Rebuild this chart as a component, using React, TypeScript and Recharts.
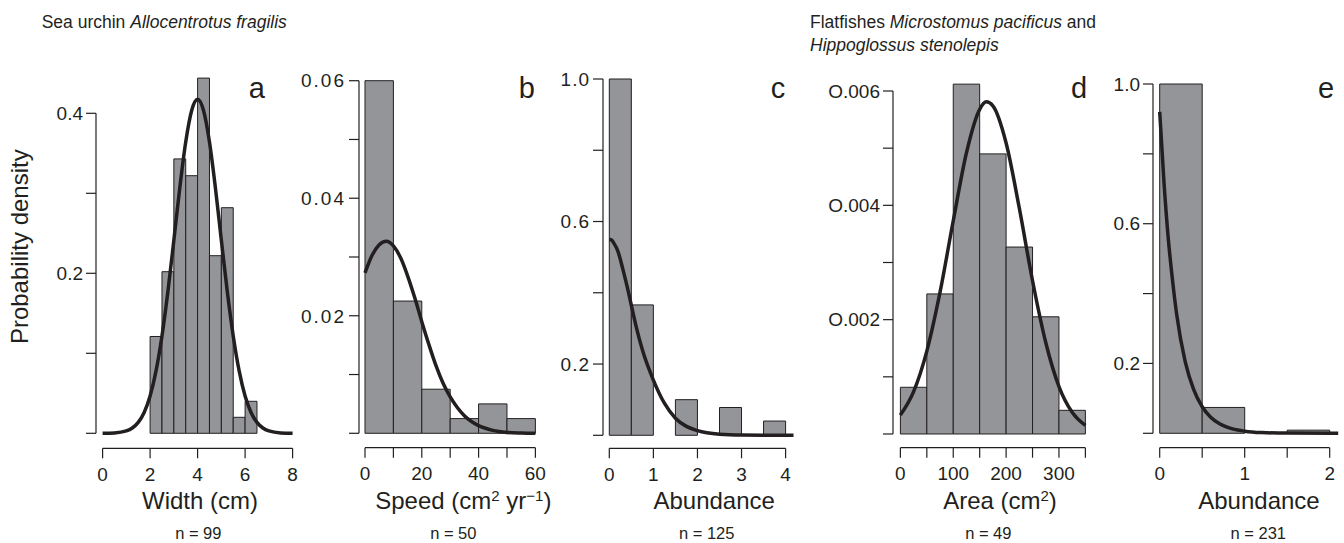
import React from "react";
import { LineChart, Line, XAxis, YAxis, ReferenceArea, ReferenceLine } from "recharts";

const INK = "#231f20";
const BAR_FILL = "#939598";
const FONT = '"Liberation Sans", Arial, Helvetica, sans-serif';

// a: sea urchin test width
const widthEdges = [2, 2.5, 3, 3.5, 4, 4.5, 5, 5.5, 6, 6.5];
const widthDensity = [0.121, 0.202, 0.343, 0.322, 0.444, 0.222, 0.282, 0.02, 0.04];
const widthFitX = [0, 0.5, 1, 1.25, 1.5, 1.75, 2, 2.25, 2.5, 2.75, 3, 3.25, 3.5, 3.75, 4, 4.25, 4.5, 4.75, 5, 5.25, 5.5, 5.75, 6, 6.25, 6.5, 6.75, 7, 7.5, 8];
const widthFitY = [0.0001, 0.0005, 0.003, 0.0066, 0.0136, 0.026, 0.0466, 0.078, 0.1217, 0.1772, 0.2413, 0.3068, 0.364, 0.4034, 0.4175, 0.4034, 0.364, 0.3068, 0.2413, 0.1772, 0.1217, 0.078, 0.0466, 0.026, 0.0136, 0.0066, 0.003, 0.0005, 0.0001];
const widthXTicks = [0, 2, 4, 6, 8];
const widthXLabels = ["0", "2", "4", "6", "8"];
const widthYTicks = [0, 0.1, 0.2, 0.3, 0.4];
const widthYLabels = ["", "", "0.2", "", "0.4"];

// b: sea urchin speed
const speedEdges = [0, 10, 20, 30, 40, 50, 60];
const speedDensity = [0.06, 0.0225, 0.0075, 0.0025, 0.005, 0.0025];
const speedFitX = [0, 2.5, 5, 7.5, 10, 12.5, 15, 17.5, 20, 22.5, 25, 27.5, 30, 32.5, 35, 37.5, 40, 45, 50, 55, 60];
const speedFitY = [0.0273, 0.0303, 0.0321, 0.0327, 0.0319, 0.0299, 0.0268, 0.0231, 0.019, 0.0151, 0.0115, 0.0085, 0.0062, 0.0044, 0.003, 0.002, 0.0013, 0.0005, 0.00015, 0.00004, 0];
const speedXTicks = [0, 10, 20, 30, 40, 50, 60];
const speedXLabels = ["0", "", "20", "", "40", "", "60"];
const speedYTicks = [0, 0.01, 0.02, 0.03, 0.04, 0.05, 0.06];
const speedYLabels = ["", "", "0.02", "", "0.04", "", "0.06"];

// c: sea urchin abundance
const urchinAbEdges = [0, 0.5, 1, 1.5, 2, 2.5, 3, 3.5, 4];
const urchinAbDensity = [1.0, 0.366, 0, 0.1, 0, 0.078, 0, 0.04];
const urchinAbFitX = [0, 0.05, 0.1, 0.2, 0.3, 0.4, 0.5, 0.6, 0.75, 1, 1.25, 1.5, 1.75, 2, 2.5, 3, 3.5, 4.18];
const urchinAbFitY = [0.55, 0.548, 0.54, 0.515, 0.47, 0.42, 0.365, 0.31, 0.24, 0.155, 0.09, 0.048, 0.025, 0.013, 0.003, 0.0005, 0.0001, 0];
const urchinAbXTicks = [0, 1, 2, 3, 4];
const urchinAbXLabels = ["0", "1", "2", "3", "4"];
const urchinAbYTicks = [0, 0.2, 0.4, 0.6, 0.8, 1.0];
const urchinAbYLabels = ["", "0.2", "", "0.6", "", "1.0"];

// d: flatfish area
const areaEdges = [0, 50, 100, 150, 200, 250, 300, 350];
const areaDensity = [0.000817, 0.00245, 0.00612, 0.0049, 0.00327, 0.00205, 0.000414];
const areaFitX = [0, 25, 50, 75, 100, 125, 150, 162.5, 175, 200, 225, 250, 275, 300, 325, 350];
const areaFitY = [0.00033, 0.00074, 0.00145, 0.00248, 0.00373, 0.00492, 0.00568, 0.00581, 0.00574, 0.00509, 0.00395, 0.00268, 0.0016, 0.00083, 0.00038, 0.00015];
const areaXTicks = [0, 50, 100, 150, 200, 250, 300, 350];
const areaXLabels = ["0", "", "100", "", "200", "", "300", ""];
const areaYTicks = [0, 0.001, 0.002, 0.003, 0.004, 0.005, 0.006];
const areaYLabels = ["", "", "O.002", "", "O.004", "", "O.006"];

// e: flatfish abundance
const fishAbEdges = [0, 0.5, 1, 1.5, 2];
const fishAbDensity = [1.0, 0.074, 0, 0.009];
const fishAbFitX = [0, 0.05, 0.1, 0.15, 0.2, 0.3, 0.4, 0.5, 0.6, 0.7, 0.8, 1, 1.2, 1.5, 2.1];
const fishAbFitY = [0.92, 0.72, 0.56, 0.44, 0.34, 0.205, 0.125, 0.076, 0.046, 0.028, 0.017, 0.006, 0.002, 0.0005, 0];
const fishAbXTicks = [0, 0.5, 1, 1.5, 2];
const fishAbXLabels = ["0", "", "1", "", "2"];
const fishAbYTicks = [0, 0.2, 0.4, 0.6, 0.8, 1.0];
const fishAbYLabels = ["", "0.2", "", "0.6", "", "1.0"];

const Y_W = 80;
const X_H = 40;
const R_PAD = 20;

type Layout = {
  axisX: number; // pixel x of the y-axis line
  x0: number; // pixel x of value 0
  xEnd: number; // pixel x of the last x tick
  plotRight: number;
  zeroY: number; // pixel y of density 0
  yTop: number; // pixel y of the top y tick
  xLine: number; // pixel y of the x-axis line
  plotTop: number;
};

type PanelProps = {
  edges: number[];
  density: number[];
  fitX: number[];
  fitY: number[];
  xTicks: number[];
  xLabels: string[];
  yTicks: number[];
  yLabels: string[];
  layout: Layout;
  ySpacing: number;
};

const labelFor = (ticks: number[], labels: string[]) => (v: number) => {
  const i = ticks.findIndex((t) => Math.abs(t - v) < 1e-9);
  return i >= 0 ? labels[i] : "";
};

function Panel({ edges, density, fitX, fitY, xTicks, xLabels, yTicks, yLabels, layout, ySpacing }: PanelProps) {
  const { axisX, x0, xEnd, plotRight, zeroY, yTop, xLine, plotTop } = layout;
  const xMaxTick = xTicks[xTicks.length - 1];
  const yTopTick = yTicks[yTicks.length - 1];
  const pxX = (xEnd - x0) / xMaxTick;
  const xMin = -(x0 - axisX) / pxX;
  const xMax = (plotRight - x0) / pxX;
  const pxY = (zeroY - yTop) / yTopTick;
  const yMin = -(xLine - zeroY) / pxY;
  const yMax = (zeroY - plotTop) / pxY;
  const data = fitX.map((x, i) => ({ x, y: fitY[i] }));
  const tickStyle = { fill: INK, fontSize: 19, fontFamily: FONT };

  return (
    <div style={{ position: "absolute", left: axisX - Y_W, top: plotTop }}>
      <LineChart
        width={Y_W + (plotRight - axisX) + R_PAD}
        height={xLine - plotTop + X_H}
        data={data}
        margin={{ top: 0, right: R_PAD, bottom: 0, left: 0 }}
      >
        <XAxis
          type="number"
          dataKey="x"
          domain={[xMin, xMax]}
          allowDataOverflow
          ticks={xTicks}
          interval={0}
          height={X_H}
          axisLine={false}
          tickSize={10}
          tickMargin={9}
          tickLine={{ stroke: INK, strokeWidth: 1.2 }}
          tick={tickStyle}
          tickFormatter={labelFor(xTicks, xLabels)}
        />
        <YAxis
          type="number"
          domain={[yMin, yMax]}
          allowDataOverflow
          ticks={yTicks}
          interval={0}
          width={Y_W}
          axisLine={false}
          tickSize={10}
          tickMargin={3}
          tickLine={{ stroke: INK, strokeWidth: 1.2 }}
          tick={{ ...tickStyle, letterSpacing: ySpacing }}
          tickFormatter={labelFor(yTicks, yLabels)}
        />
        {density.map((d, i) =>
          d > 0 ? (
            <ReferenceArea
              key={i}
              x1={edges[i]}
              x2={edges[i + 1]}
              y1={0}
              y2={d}
              fill={BAR_FILL}
              fillOpacity={1}
              stroke={INK}
              strokeWidth={1}
              ifOverflow="visible"
            />
          ) : null
        )}
        <ReferenceLine
          segment={[{ x: xMin, y: 0 }, { x: xMin, y: yTopTick }]}
          stroke={INK}
          strokeWidth={1.2}
          ifOverflow="visible"
        />
        <ReferenceLine
          segment={[{ x: 0, y: yMin }, { x: xMaxTick, y: yMin }]}
          stroke={INK}
          strokeWidth={1.2}
          ifOverflow="visible"
        />
        <Line
          type="monotone"
          dataKey="y"
          stroke={INK}
          strokeWidth={3.5}
          dot={false}
          isAnimationActive={false}
        />
      </LineChart>
    </div>
  );
}

type Seg = { t: string; sup?: boolean };

function Rich({ segs }: { segs: Seg[] }) {
  return (
    <>
      {segs.map((s, i) => {
        const prevSup = i > 0 && segs[i - 1].sup;
        const dy = s.sup ? -8 : prevSup ? 8 : 0;
        return (
          <tspan key={i} dy={dy} fontSize={s.sup ? 15 : undefined}>
            {s.t}
          </tspan>
        );
      })}
    </>
  );
}

const panels = [
  {
    key: "a",
    edges: widthEdges, density: widthDensity, fitX: widthFitX, fitY: widthFitY,
    xTicks: widthXTicks, xLabels: widthXLabels, yTicks: widthYTicks, yLabels: widthYLabels,
    layout: { axisX: 95.7, x0: 102.3, xEnd: 292.3, plotRight: 296, zeroY: 433.3, yTop: 113.3, xLine: 448.3, plotTop: 70 },
    ySpacing: 0,
    letterX: 256.7, titleX: 200, nX: 198.3,
    title: [{ t: "Width (cm)" }], n: "n = 99",
  },
  {
    key: "b",
    edges: speedEdges, density: speedDensity, fitX: speedFitX, fitY: speedFitY,
    xTicks: speedXTicks, xLabels: speedXLabels, yTicks: speedYTicks, yLabels: speedYLabels,
    layout: { axisX: 359.3, x0: 365.3, xEnd: 535.7, plotRight: 540, zeroY: 433.3, yTop: 80.7, xLine: 447.7, plotTop: 70 },
    ySpacing: 2,
    letterX: 526.7, titleX: 463.3, nX: 453.3,
    title: [{ t: "Speed (cm" }, { t: "2", sup: true }, { t: " yr" }, { t: "−1", sup: true }, { t: ")" }], n: "n = 50",
  },
  {
    key: "c",
    edges: urchinAbEdges, density: urchinAbDensity, fitX: urchinAbFitX, fitY: urchinAbFitY,
    xTicks: urchinAbXTicks, xLabels: urchinAbXLabels, yTicks: urchinAbYTicks, yLabels: urchinAbYLabels,
    layout: { axisX: 602.7, x0: 609, xEnd: 785.3, plotRight: 797, zeroY: 435.3, yTop: 79, xLine: 448.3, plotTop: 70 },
    ySpacing: 1,
    letterX: 778, titleX: 714.2, nX: 706.7,
    title: [{ t: "Abundance" }], n: "n = 125",
  },
  {
    key: "d",
    edges: areaEdges, density: areaDensity, fitX: areaFitX, fitY: areaFitY,
    xTicks: areaXTicks, xLabels: areaXLabels, yTicks: areaYTicks, yLabels: areaYLabels,
    layout: { axisX: 893.3, x0: 900.7, xEnd: 1085.7, plotRight: 1090, zeroY: 434, yTop: 91, xLine: 447.7, plotTop: 70 },
    ySpacing: 0,
    letterX: 1079, titleX: 1000, nX: 988.3,
    title: [{ t: "Area (cm" }, { t: "2", sup: true }, { t: ")" }], n: "n = 49",
  },
  {
    key: "e",
    edges: fishAbEdges, density: fishAbDensity, fitX: fishAbFitX, fitY: fishAbFitY,
    xTicks: fishAbXTicks, xLabels: fishAbXLabels, yTicks: fishAbYTicks, yLabels: fishAbYLabels,
    layout: { axisX: 1153.3, x0: 1160, xEnd: 1330, plotRight: 1342, zeroY: 433.3, yTop: 84, xLine: 447.7, plotTop: 70 },
    ySpacing: 0,
    letterX: 1326, titleX: 1259, nX: 1258.3,
    title: [{ t: "Abundance" }], n: "n = 231",
  },
];

export default function App() {
  return (
    <div style={{ position: "relative", width: 1344, height: 543, background: "#fff", overflow: "hidden" }}>
      <style>{"body{margin:0}"}</style>
      {panels.map((p) => (
        <Panel
          key={p.key}
          edges={p.edges}
          density={p.density}
          fitX={p.fitX}
          fitY={p.fitY}
          xTicks={p.xTicks}
          xLabels={p.xLabels}
          yTicks={p.yTicks}
          yLabels={p.yLabels}
          layout={p.layout}
          ySpacing={p.ySpacing}
        />
      ))}
      <svg
        width={1344}
        height={543}
        style={{ position: "absolute", left: 0, top: 0, pointerEvents: "none" }}
        fontFamily={FONT}
        fill={INK}
      >
        <text x={41.7} y={28.3} fontSize={17.5}>
          Sea urchin <tspan fontStyle="italic">Allocentrotus fragilis</tspan>
        </text>
        <text x={810} y={28} fontSize={17.5}>
          Flatfishes <tspan fontStyle="italic">Microstomus pacificus</tspan> and
        </text>
        <text x={810} y={51} fontSize={17.5} fontStyle="italic">
          Hippoglossus stenolepis
        </text>
        <text x={28} y={246.7} fontSize={24} textAnchor="middle" transform="rotate(-90 28 246.7)">
          Probability density
        </text>
        {panels.map((p) => (
          <g key={p.key}>
            <text x={p.letterX} y={97.5} fontSize={29} textAnchor="middle">{p.key}</text>
            <text x={p.titleX} y={508.5} fontSize={24} textAnchor="middle">
              <Rich segs={p.title} />
            </text>
            <text x={p.nX} y={538.5} fontSize={16.5} textAnchor="middle">{p.n}</text>
          </g>
        ))}
      </svg>
    </div>
  );
}
